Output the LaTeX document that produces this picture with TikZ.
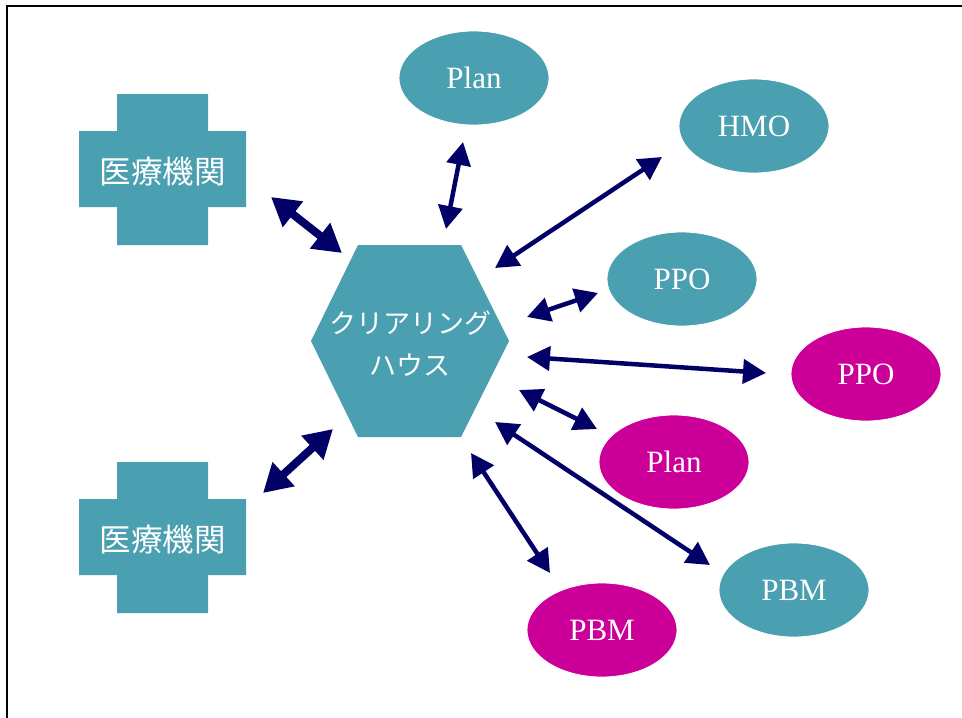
\documentclass[tikz,border=0pt]{standalone}
\usepackage{fontspec}
\setmainfont{Liberation Serif}
\newfontfamily\jpfont{Noto Sans CJK JP}
\usetikzlibrary{shapes.geometric,arrows.meta}
\definecolor{hubteal}{RGB}{74,159,176}
\definecolor{planmag}{RGB}{204,0,153}
\definecolor{arrownavy}{RGB}{0,0,102}
\tikzset{
  payer/.style={ellipse,fill=#1,draw=white,line width=0.8pt,minimum width=150pt,minimum height=94pt,inner sep=0pt,text=white,font=\fontsize{31}{32}\selectfont},
  link/.style={arrownavy,line width=4.5pt,{Triangle[length=23pt,width=24pt]}-{Triangle[length=23pt,width=24pt]}},
  biglink/.style={arrownavy,line width=8pt,{Triangle[length=28pt,width=31pt]}-{Triangle[length=28pt,width=31pt]}},
  jptext/.style={text=white,align=center,inner sep=0pt,font=\jpfont\fontsize{31.5}{34}\selectfont}
}
\begin{document}
\begin{tikzpicture}[x=1pt,y=-1pt]
  \useasboundingbox (0,0) rectangle (962,718);
  \draw[line width=2.8pt] (7,718) -- (7,6) -- (962,6);
  \foreach \dy/\name in {0/clinicA,368/clinicB}{
    \fill[hubteal,shift={(0,\dy)}] (117,94) -- (208,94) -- (208,131) -- (246,131) -- (246,207) -- (208,207) -- (208,245) -- (117,245) -- (117,207) -- (79,207) -- (79,131) -- (117,131) -- cycle;
    \node[jptext] (\name) at (162.5,171.5+\dy) {医療機関};
  }
  \fill[hubteal] (311,341) -- (358,245) -- (461,245) -- (509,341) -- (461,437) -- (358,437) -- cycle;
  \node[jptext,font=\jpfont\fontsize{27}{42}\selectfont] (hub) at (410,344) {クリアリング\\ハウス};
  \node[payer=hubteal] (planA) at (474,78) {Plan};
  \node[payer=hubteal] (hmo) at (754,126) {HMO};
  \node[payer=hubteal] (ppoA) at (682,279) {PPO};
  \node[payer=planmag] (ppoB) at (866,374) {PPO};
  \node[payer=planmag] (planB) at (674,462) {Plan};
  \node[payer=hubteal] (pbmA) at (794,590) {PBM};
  \node[payer=planmag] (pbmB) at (602,630) {PBM};
  \coordinate (c1) at (271,197); \coordinate (h1) at (342,253);
  \coordinate (c2) at (263,493); \coordinate (h2) at (333,429);
  \coordinate (h3) at (446,229); \coordinate (p3) at (463,142);
  \coordinate (h4) at (495,268); \coordinate (p4) at (662,157);
  \coordinate (h5) at (527,317); \coordinate (p5) at (598,293);
  \coordinate (h6) at (527,357); \coordinate (p6) at (766,373);
  \coordinate (h7) at (519,390); \coordinate (p7) at (597,429);
  \coordinate (h8) at (495,422); \coordinate (p8) at (710,565);
  \coordinate (h9) at (471,453); \coordinate (p9) at (550,573);
  \draw[biglink] (c1) -- (h1);
  \draw[biglink] (c2) -- (h2);
  \foreach \i in {3,...,9}
    \draw[link] (h\i) -- (p\i);
\end{tikzpicture}
\end{document}
